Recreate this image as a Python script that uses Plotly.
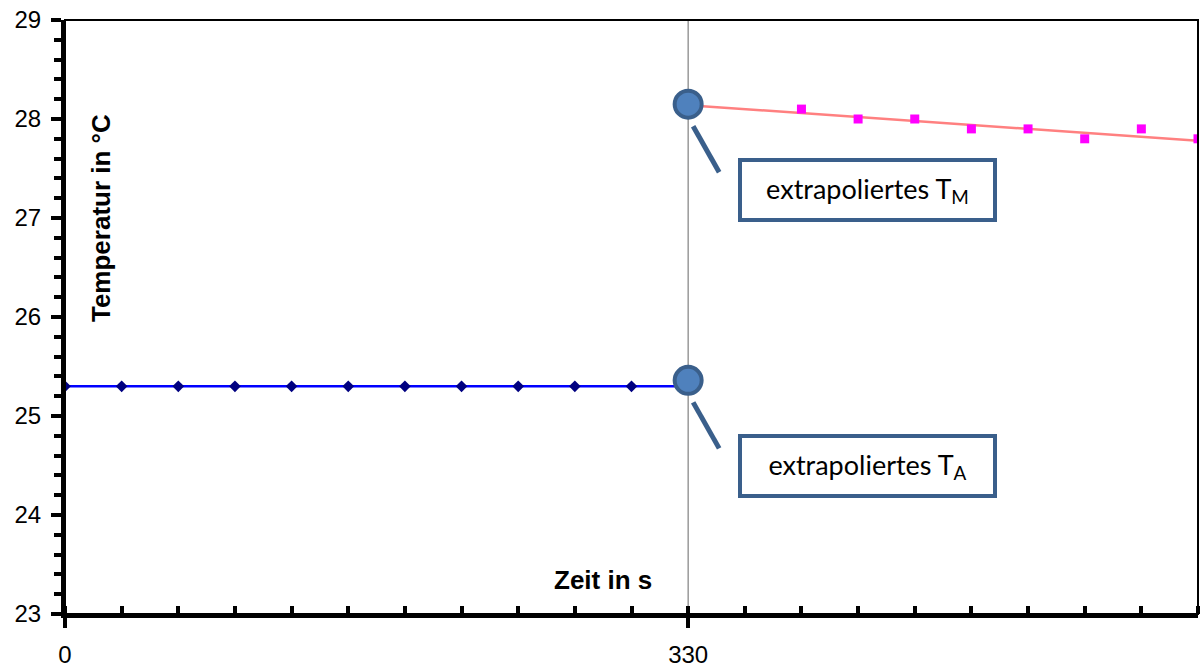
import plotly.graph_objects as go

# ---- data ----
time_before = [0, 30, 60, 90, 120, 150, 180, 210, 240, 270, 300]
temp_before = [25.3, 25.3, 25.3, 25.3, 25.3, 25.3, 25.3, 25.3, 25.3, 25.3, 25.3]
time_after = [390, 420, 450, 480, 510, 540, 570, 600]
temp_after = [28.1, 28.0, 28.0, 27.9, 27.9, 27.8, 27.9, 27.8]
fit_before_x = [0, 330]
fit_before_y = [25.3, 25.3]
fit_after_x = [330, 600]
fit_after_y = [28.14, 27.78]
t_mix = 330
extrap_T = [28.15, 25.36]
extrap_labels = ["extrapoliertes T<sub>M</sub>", "extrapoliertes T<sub>A</sub>"]
x_ticklabels = [0, 330]

AR = "Arial, Liberation Sans, sans-serif"
DARK = "#3A5F8B"

fig = go.Figure()
fig.add_trace(go.Scatter(x=fit_before_x, y=fit_before_y, mode="lines",
                         line=dict(color="#0000FF", width=2.5), hoverinfo="skip"))
fig.add_trace(go.Scatter(x=time_before, y=temp_before, mode="markers",
                         marker=dict(symbol="diamond", color="#000080", size=9)))
fig.add_trace(go.Scatter(x=fit_after_x, y=fit_after_y, mode="lines",
                         line=dict(color="#FF8080", width=2.5), hoverinfo="skip"))
fig.add_trace(go.Scatter(x=time_after, y=temp_after, mode="markers",
                         marker=dict(symbol="square", color="#FF00FF", size=9), cliponaxis=True))
fig.add_trace(go.Scatter(x=[t_mix, t_mix], y=extrap_T, mode="markers",
                         marker=dict(symbol="circle", color="#4F81BD", size=27,
                                     line=dict(color=DARK, width=4)), cliponaxis=False))

shapes = [
    dict(type="line", xref="x", yref="paper", x0=t_mix, x1=t_mix, y0=0, y1=1,
         line=dict(color="#808080", width=1.2), layer="below"),
    dict(type="rect", xref="paper", yref="paper", x0=0, x1=1, y0=0, y1=1,
         line=dict(color="black", width=2)),
]
annotations = []
for T, lab in zip(extrap_T, extrap_labels):
    shapes.append(dict(type="line", xref="x", yref="y", xsizemode="pixel", ysizemode="pixel",
                       xanchor=t_mix, yanchor=T, x0=5, x1=31, y0=-22, y1=-68,
                       line=dict(color=DARK, width=5)))
    annotations.append(dict(x=t_mix, y=T, xref="x", yref="y", xanchor="left", yanchor="top",
                            xshift=50, yshift=-54, showarrow=False, text=lab,
                            font=dict(family="Lato, Open Sans, sans-serif", size=27, color="black"),
                            align="center", width=239, height=44, borderpad=6,
                            bordercolor=DARK, borderwidth=4, bgcolor="white"))

annotations.append(dict(x=0.032, y=0.667, xref="paper", yref="paper", text="<b>Temperatur in °C</b>",
                        textangle=-90, showarrow=False, font=dict(family=AR, size=26, color="black"),
                        xanchor="center", yanchor="middle"))
annotations.append(dict(x=0.475, y=0.057, xref="paper", yref="paper", text="<b>Zeit in s</b>",
                        showarrow=False, font=dict(family=AR, size=26, color="black"),
                        xanchor="center", yanchor="middle"))

fig.update_layout(
    width=1200, height=669,
    margin=dict(l=65, r=2, t=20, b=55, autoexpand=False),
    paper_bgcolor="white", plot_bgcolor="white",
    showlegend=False, hovermode=False,
    shapes=shapes, annotations=annotations,
    xaxis=dict(range=[0, 600], tickmode="array", tickvals=x_ticklabels,
               ticktext=[str(v) for v in x_ticklabels], automargin=False,
               ticklabeloverflow="allow",
               ticks="outside", ticklen=10, tickwidth=4, tickcolor="black",
               showline=True, linecolor="black", linewidth=4, showgrid=False, zeroline=False,
               tickfont=dict(family=AR, size=24, color="black"), ticklabelstandoff=6,
               minor=dict(tickmode="linear", tick0=0, dtick=30, ticks="inside", ticklen=8,
                          tickwidth=4, tickcolor="black", showgrid=False)),
    yaxis=dict(range=[23, 29], dtick=1, ticks="outside", ticklen=10, tickwidth=4, tickcolor="black",
               showline=True, linecolor="black", linewidth=4, showgrid=False, zeroline=False,
               automargin=False, ticklabeloverflow="allow",
               tickfont=dict(family=AR, size=24, color="black"), ticklabelstandoff=5,
               minor=dict(dtick=0.2, ticks="outside", ticklen=7, tickwidth=4, tickcolor="black",
                          showgrid=False)),
)
post = ("document.documentElement.style.margin='0';document.body.style.margin='0';"
        "document.documentElement.style.overflow='hidden';document.body.style.overflow='hidden';")
fig.write_html("out.html", post_script=post, config={"displayModeBar": False})
